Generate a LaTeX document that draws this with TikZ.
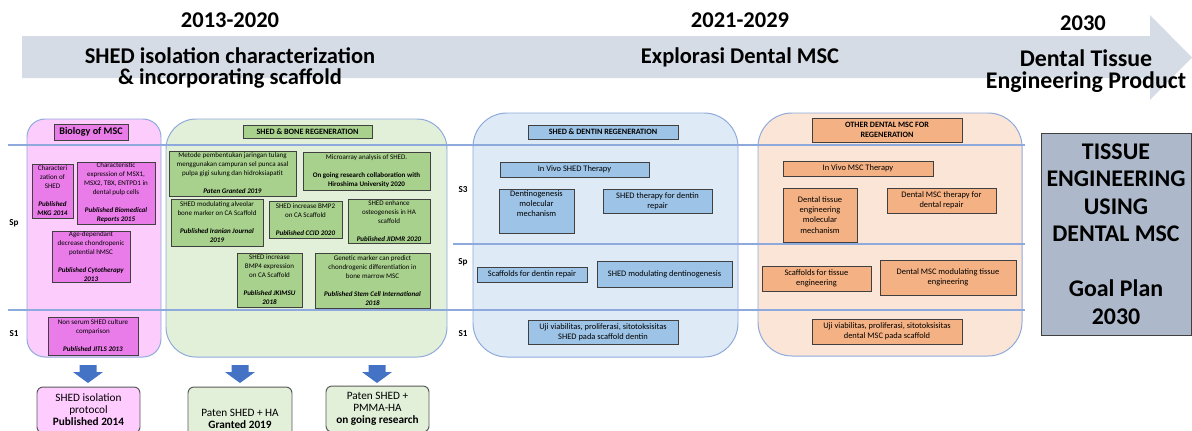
\documentclass[tikz,border=0pt]{standalone}
\usepackage{fontspec}
\setmainfont{Carlito}

\definecolor{bandgrey}{HTML}{D6DCE5}
\definecolor{panelline}{HTML}{8EA9DB}
\definecolor{boxline}{HTML}{404040}
\definecolor{outline}{HTML}{595959}
\definecolor{pinkfill}{HTML}{FCCCFC}
\definecolor{pinkbox}{HTML}{EA7CEA}
\definecolor{pinkout}{HTML}{FFCCFF}
\definecolor{greenfill}{HTML}{E2EFD9}
\definecolor{greenbox}{HTML}{A9D18E}
\definecolor{bluefill}{HTML}{DEEBF7}
\definecolor{bluebox}{HTML}{9DC3E6}
\definecolor{orangefill}{HTML}{FBE5D6}
\definecolor{orangebox}{HTML}{F4B183}
\definecolor{goalfill}{HTML}{ADB9CA}
\definecolor{arrowblue}{HTML}{4472C4}

\newcommand{\pub}[1]{\textbf{\textit{#1}}}

\begin{document}
\begin{tikzpicture}[x=0.025cm,y=-0.025cm]
\tikzstyle{every node}+=[inner sep=0pt]
\tikzset{boxsize/.style 2 args={minimum width=#1*0.025cm, minimum height=#2*0.025cm}}
\tikzstyle{item}=[draw=boxline, line width=0.6pt, align=center, font=\fontsize{5}{6.4}\selectfont]
\tikzstyle{pinkitem}=[item, fill=pinkbox]
\tikzstyle{greenitem}=[item, fill=greenbox]
\tikzstyle{blueitem}=[item, fill=bluebox, font=\fontsize{6}{7.2}\selectfont]
\tikzstyle{orangeitem}=[item, fill=orangebox, font=\fontsize{6}{7.2}\selectfont]
\tikzstyle{paneltitle}=[item, font=\fontsize{5.8}{7}\selectfont\bfseries]
\tikzstyle{panel}=[draw=panelline, line width=0.7pt]
\tikzstyle{level}=[draw=panelline, line width=0.8pt]
\tikzstyle{heading}=[align=center, font=\fontsize{16}{15}\selectfont\bfseries]
\tikzstyle{rowlabel}=[font=\fontsize{6.5}{8}\selectfont\bfseries]
\tikzstyle{outcome}=[draw=outline, line width=0.7pt, rounded corners=0.15cm, align=center, font=\fontsize{8}{8.6}\selectfont]
\useasboundingbox (0,0) rectangle (1192,430);

% timeline arrow
\fill [bandgrey] (22,36) -- (1150,36) -- (1150,15) -- (1192,57.5) -- (1150,100) -- (1150,78) -- (22,78) -- cycle;
\node [heading] (yr1) at (230,20) {2013-2020};
\node [heading] (yr2) at (740,20) {2021-2029};
\node [heading] (yr3) at (1083,23) {2030};
\node [heading] (phase1) at (230,68) {SHED isolation characterization\\\& incorporating scaffold};
\node [heading] (phase2) at (740,57) {Explorasi Dental MSC};
\node [heading, font=\fontsize{17}{15.5}\selectfont\bfseries] (phase3) at (1086,71) {Dental Tissue\\Engineering Product};

% panels
\draw [panel, fill=pinkfill, rounded corners=0.45cm] (27,119) rectangle (161,357);
\draw [panel, fill=greenfill, rounded corners=0.75cm] (166,119) rectangle (447,357);
\draw [panel, fill=bluefill, rounded corners=0.85cm] (473,113) rectangle (738,357);
\draw [panel, fill=orangefill, rounded corners=0.85cm] (758,113) rectangle (1022,356);

% levels
\draw [level] (8,145) -- (1025,145);
\draw [level] (453,244) -- (1025,244);
\draw [level] (8,310) -- (1025,310);
\node [rowlabel] (sp1) at (14,223) {Sp};
\node [rowlabel] (s11) at (14,334) {S1};
\node [rowlabel] (s3) at (463,190) {S3};
\node [rowlabel] (sp2) at (463,262) {Sp};
\node [rowlabel] (s12) at (463,334) {S1};

% biology of MSC
\node [paneltitle, fill=pinkbox, boxsize={74}{16}, font=\fontsize{7.2}{8}\selectfont\bfseries] (biotitle) at (91,132) {Biology of MSC};
\node [pinkitem, boxsize={41}{54}] (charshed) at (52.5,191) {Characteri\\zation of\\SHED\\[6.4pt]\pub{Published}\\\pub{MKG 2014}};
\node [pinkitem, boxsize={78}{62}] (charexp) at (116,193) {Characteristic\\expression of MSX1,\\MSX2, TBX, ENTPD1 in\\dental pulp cells\\[6.4pt]\pub{Published Biomedical}\\\pub{Reports 2015}};
\node [pinkitem, boxsize={78}{51}] (agedep) at (91,256.5) {Age-dependant\\decrease chondropenic\\potential hMSC\\[6.4pt]\pub{Published Cytotherapy}\\\pub{2013}};
\node [pinkitem, boxsize={90}{38}] (nonserum) at (93,336) {Non serum SHED culture\\comparison\\[6.4pt]\pub{Published JITLS 2013}};

% SHED & bone regeneration
\node [paneltitle, fill=greenbox, boxsize={129}{13}] (bonetitle) at (307.5,131.5) {SHED \& BONE REGENERATION};
\node [greenitem, boxsize={127}{45}] (metode) at (232.5,173.5) {Metode pembentukan jaringan tulang\\menggunakan campuran sel punca asal\\pulpa gigi sulung dan hidroksiapatit\\[6.4pt]\pub{Paten Granted 2019}};
\node [greenitem, boxsize={127}{38}] (microarray) at (366.5,171) {Microarray analysis of SHED.\\[6.4pt]\textbf{On going research collaboration with}\\\textbf{Hiroshima University 2020}};
\node [greenitem, boxsize={92}{47}] (alveolar) at (217,222.5) {SHED modulating alveolar\\bone marker on CA Scaffold\\[6.4pt]\pub{Published Iranian Journal}\\\pub{2019}};
\node [greenitem, boxsize={73}{37}] (bmp2) at (305.5,219.5) {SHED increase BMP2\\on CA Scaffold\\[6.4pt]\pub{Published CCID 2020}};
\node [greenitem, boxsize={82}{44}] (osteo) at (389,221) {SHED enhance\\osteogenesis in HA\\scaffold\\[6.4pt]\pub{Published JIDMR 2020}};
\node [greenitem, boxsize={65}{54}] (bmp4) at (269.5,280) {SHED increase\\BMP4 expression\\on CA Scaffold\\[6.4pt]\pub{Published JKIMSU}\\\pub{2018}};
\node [greenitem, boxsize={115}{55}] (genetic) at (372.5,280.5) {Genetic marker can predict\\chondrogenic differentiation in\\bone marrow MSC\\[6.4pt]\pub{Published Stem Cell International}\\\pub{2018}};

% SHED & dentin regeneration
\node [paneltitle, fill=bluebox, boxsize={150}{14}] (dentintitle) at (603,132) {SHED \& DENTIN REGENERATION};
\node [blueitem, boxsize={149}{15}] (vivoshed) at (574.5,169.5) {In Vivo SHED Therapy};
\node [blueitem, boxsize={75}{44}] (dentinogen) at (536.5,211) {Dentinogenesis\\molecular\\mechanism\\[3pt]};
\node [blueitem, boxsize={109}{24}] (shedtherapy) at (657.5,201) {SHED therapy for dentin\\repair};
\node [blueitem, boxsize={110}{15}] (scafdentin) at (532,274.5) {Scaffolds for dentin repair};
\node [blueitem, boxsize={135}{26}] (shedmodul) at (664.5,274) {SHED modulating dentinogenesis};
\node [blueitem, boxsize={150}{24}] (ujished) at (603,332) {Uji viabilitas, proliferasi, sitotoksisitas\\SHED pada scaffold dentin};

% other dental MSC
\node [paneltitle, fill=orangebox, boxsize={150}{24}] (othertitle) at (887,130) {OTHER DENTAL MSC FOR\\REGENERATION};
\node [orangeitem, boxsize={150}{15}] (vivomsc) at (858,168.5) {In Vivo MSC Therapy};
\node [orangeitem, boxsize={74}{54}] (dentaltissue) at (820,215) {Dental tissue\\engineering\\molecular\\mechanism};
\node [orangeitem, boxsize={109}{25}] (msctherapy) at (941.5,200.5) {Dental MSC therapy for\\dental repair};
\node [orangeitem, boxsize={109}{25}] (scaftissue) at (816.5,278.5) {Scaffolds for tissue\\engineering};
\node [orangeitem, boxsize={136}{35}] (mscmodul) at (948,277.5) {Dental MSC modulating tissue\\engineering};
\node [orangeitem, boxsize={150}{25}] (ujimsc) at (887,331.5) {Uji viabilitas, proliferasi, sitotoksisitas\\dental MSC pada scaffold};

% goal
\node [draw=boxline, line width=0.7pt, fill=goalfill, boxsize={150}{202}, align=center, font=\fontsize{17}{19.5}\selectfont\bfseries] (goal) at (1116,234) {TISSUE\\ENGINEERING\\USING\\DENTAL MSC\\[19.5pt]Goal Plan\\2030};

% outcomes
\fill [arrowblue] (79.5,365) -- (96.5,365) -- (96.5,372) -- (103,372) -- (88,383) -- (73,372) -- (79.5,372) -- cycle;
\fill [arrowblue] (231.5,365) -- (248.5,365) -- (248.5,372) -- (255,372) -- (240,383) -- (225,372) -- (231.5,372) -- cycle;
\fill [arrowblue] (368.5,365) -- (385.5,365) -- (385.5,372) -- (392,372) -- (377,383) -- (362,372) -- (368.5,372) -- cycle;
\node [outcome, fill=pinkout, boxsize={103}{46}] (isolprot) at (88.5,410) {SHED isolation\\protocol\\\textbf{Published 2014}};
\node [outcome, fill=greenfill, boxsize={104}{64}] (patenha) at (240,419) {Paten SHED + HA\\\textbf{Granted 2019}};
\node [outcome, fill=greenfill, boxsize={103}{46}] (patenpmma) at (377.5,409) {Paten SHED +\\PMMA-HA\\\textbf{on going research}};
\end{tikzpicture}
\end{document}
